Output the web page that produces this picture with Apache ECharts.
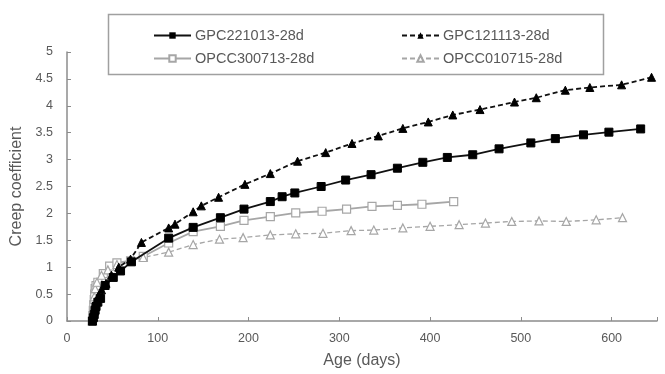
<!DOCTYPE html>
<html><head><meta charset="utf-8">
<script src="https://cdn.jsdelivr.net/npm/echarts@6/dist/echarts.min.js"></script>
<style>html,body{margin:0;padding:0;background:#fff}#c{width:665px;height:374px}</style>
</head><body><div id="c"></div>
<script>
var seriesNames = ['GPC221013-28d', 'GPC121113-28d', 'OPCC300713-28d', 'OPCC010715-28d'];
var xTicks = [0, 100, 200, 300, 400, 500, 600];
var yTicks = [0, 0.5, 1, 1.5, 2, 2.5, 3, 3.5, 4, 4.5, 5];

var gpc221013Days = [28, 29, 30, 31, 32, 34, 37, 42, 51, 59, 71, 112, 139, 169, 195, 224, 237, 251, 280, 307, 335, 364, 392, 419, 447, 476, 511, 538, 569, 597, 632];
var gpc221013Vals = [0, 0.06, 0.12, 0.2, 0.27, 0.35, 0.42, 0.66, 0.81, 0.93, 1.1, 1.54, 1.74, 1.92, 2.08, 2.22, 2.31, 2.38, 2.5, 2.62, 2.72, 2.84, 2.95, 3.04, 3.09, 3.2, 3.31, 3.39, 3.46, 3.51, 3.57];

var gpc121113Days = [28, 29, 30, 31, 33, 35, 38, 43, 49, 57, 70, 82, 112, 119, 139, 148, 167, 196, 224, 254, 285, 314, 343, 370, 398, 425, 455, 493, 517, 549, 576, 611, 644];
var gpc121113Vals = [0, 0.08, 0.18, 0.28, 0.38, 0.48, 0.58, 0.7, 0.85, 1.0, 1.15, 1.46, 1.73, 1.8, 2.03, 2.14, 2.3, 2.54, 2.74, 2.97, 3.13, 3.3, 3.44, 3.58, 3.7, 3.83, 3.93, 4.07, 4.15, 4.29, 4.34, 4.39, 4.53];

var opcc300713Days = [28, 28.5, 29, 29.5, 30, 30.5, 31, 32, 34, 40, 47, 55, 70, 84, 112, 139, 169, 195, 224, 252, 281, 308, 336, 364, 391, 426];
var opcc300713Vals = [0, 0.1, 0.2, 0.3, 0.4, 0.5, 0.6, 0.66, 0.72, 0.88, 1.02, 1.08, 1.12, 1.2, 1.45, 1.66, 1.76, 1.87, 1.94, 2.01, 2.04, 2.08, 2.13, 2.15, 2.17, 2.22];

var opcc010715Days = [28, 29, 29.5, 30, 31, 33, 38, 45, 55, 70, 84, 112, 139, 168, 194, 224, 252, 282, 313, 338, 370, 400, 432, 461, 490, 520, 550, 583, 612];
var opcc010715Vals = [0, 0.15, 0.3, 0.45, 0.6, 0.72, 0.85, 0.95, 1.05, 1.12, 1.18, 1.28, 1.42, 1.52, 1.55, 1.6, 1.62, 1.63, 1.68, 1.69, 1.73, 1.76, 1.79, 1.82, 1.85, 1.86, 1.85, 1.88, 1.92];

function pairs(d, v) { return d.map(function (x, i) { return [x, v[i]]; }); }

var chart = echarts.init(document.getElementById('c'), null, {renderer: 'canvas'});
var txt = '#595959';
var axisCol = '#8c8c8c';
var grey = '#a6a6a6';
var font = 'Liberation Sans, Arial, sans-serif';
function leg(name, left, top) {
  return {
    data: [name], left: left, top: top, orient: 'horizontal', z: 20,
    itemWidth: 37, itemHeight: 8, itemGap: 5, padding: 0,
    textStyle: {color: txt, fontSize: 14.5, fontFamily: font, padding: [0, 0, 0, -1]}
  };
}
chart.setOption({
  animation: false,
  backgroundColor: '#fff',
  graphic: [{type: 'rect', shape: {x: 108.5, y: 14.5, width: 495, height: 60},
    style: {fill: '#fff', stroke: '#a0a0a0', lineWidth: 1.5}, z: 1}],
  grid: {left: 67, right: 8, top: 52, bottom: 50, containLabel: false},
  legend: [
    leg(seriesNames[0], 153, 28),
    leg(seriesNames[1], 401, 28),
    leg(seriesNames[2], 153, 51),
    leg(seriesNames[3], 401, 51)
  ],
  xAxis: {
    type: 'value', min: 0, max: 650, interval: 100,
    name: 'Age (days)', nameLocation: 'middle', nameGap: 32,
    nameTextStyle: {color: txt, fontSize: 16, fontFamily: font},
    axisLine: {lineStyle: {color: axisCol, width: 1.5}},
    axisTick: {inside: true, length: 4, lineStyle: {color: axisCol}},
    axisLabel: {color: txt, fontSize: 12.5, fontFamily: font, margin: 11,
      formatter: function (v) { return xTicks.indexOf(v) >= 0 ? String(v) : ''; }},
    splitLine: {show: false}
  },
  yAxis: {
    type: 'value', min: 0, max: 5, interval: 0.5,
    name: 'Creep coefficient', nameLocation: 'middle', nameGap: 33,
    nameTextStyle: {color: txt, fontSize: 16, fontFamily: font},
    axisLine: {show: true, lineStyle: {color: axisCol, width: 1.5}},
    axisTick: {show: true, inside: true, length: 4, lineStyle: {color: axisCol}},
    axisLabel: {color: txt, fontSize: 12.5, fontFamily: font, margin: 14,
      formatter: function (v) { return yTicks.indexOf(v) >= 0 ? String(v) : ''; }},
    splitLine: {show: false}
  },
  series: [
    {name: seriesNames[0], type: 'line', data: pairs(gpc221013Days, gpc221013Vals),
      symbol: 'rect', symbolSize: 8, z: 4,
      lineStyle: {color: '#111', width: 1.8, type: 'solid'},
      itemStyle: {color: '#000', borderColor: '#000'}},
    {name: seriesNames[1], type: 'line', data: pairs(gpc121113Days, gpc121113Vals),
      symbol: 'triangle', symbolSize: 8, z: 4,
      lineStyle: {color: '#111', width: 1.8, type: [5, 3]},
      itemStyle: {color: '#000', borderColor: '#000'}},
    {name: seriesNames[2], type: 'line', data: pairs(opcc300713Days, opcc300713Vals),
      symbol: 'rect', symbolSize: 8, z: 3,
      lineStyle: {color: grey, width: 1.8, type: 'solid'},
      itemStyle: {color: '#fff', borderColor: grey, borderWidth: 1.2}},
    {name: seriesNames[3], type: 'line', data: pairs(opcc010715Days, opcc010715Vals),
      symbol: 'triangle', symbolSize: 8, z: 3,
      lineStyle: {color: grey, width: 1.3, type: [5, 3]},
      itemStyle: {color: '#fff', borderColor: grey, borderWidth: 1.2}}
  ]
});
</script>
</body></html>
